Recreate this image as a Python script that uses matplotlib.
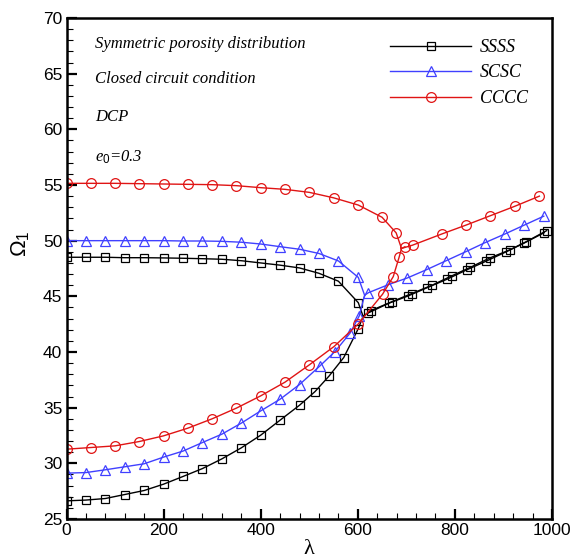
import matplotlib
matplotlib.use("Agg")
import matplotlib.pyplot as plt
from matplotlib.ticker import MultipleLocator

plt.rcParams['mathtext.fontset'] = 'custom'
plt.rcParams['mathtext.rm'] = 'Liberation Sans'
plt.rcParams['mathtext.it'] = 'Liberation Serif:italic'
plt.rcParams['mathtext.bf'] = 'Liberation Sans:bold'

# ---------------- data ----------------
# SSSS: branch A = lower branch + coalesced part, branch B = upper branch + coalesced part
lam_ssss_a = [0, 40, 80, 120, 160, 200, 240, 280, 320, 360, 400, 440, 480, 512, 541, 571, 601,
              611, 620, 664, 704, 743, 784, 824, 864, 905, 942, 984]
om_ssss_a = [26.63, 26.70, 26.84, 27.2, 27.56, 28.13, 28.82, 29.53, 30.40, 31.39, 32.53, 33.88,
             35.22, 36.45, 37.85, 39.5, 42.1, 43.2, 43.48, 44.38, 45.04, 45.78, 46.54, 47.37,
             48.15, 48.99, 49.77, 50.72]
lam_ssss_b = [0, 40, 80, 120, 160, 200, 240, 280, 320, 360, 400, 440, 480, 520, 560, 601,
              611, 627, 671, 711, 753, 793, 832, 872, 913, 947, 989]
om_ssss_b = [48.51, 48.51, 48.51, 48.47, 48.47, 48.45, 48.42, 48.38, 48.33, 48.2, 48.0, 47.8,
             47.55, 47.07, 46.36, 44.43, 43.2, 43.72, 44.53, 45.25, 46.0, 46.83, 47.61, 48.45,
             49.17, 49.91, 50.9]

# SCSC
lam_scsc_a = [0, 40, 80, 120, 160, 200, 240, 280, 320, 360, 400, 440, 480, 522, 553, 584, 603,
              614, 622, 663, 702, 742, 782, 822, 862, 903, 943, 983]
om_scsc_a = [29.12, 29.17, 29.42, 29.69, 29.96, 30.56, 31.1, 31.87, 32.62, 33.61, 34.71, 35.76,
             37.08, 38.75, 40.04, 41.69, 43.24, 45.1, 45.33, 46.05, 46.65, 47.4, 48.2, 49.0,
             49.82, 50.6, 51.4, 52.2]
lam_scsc_b = [0, 40, 80, 120, 160, 200, 240, 280, 320, 360, 400, 440, 480, 520, 560, 601, 614]
om_scsc_b = [50.0, 50.0, 50.0, 50.0, 50.0, 50.0, 49.97, 49.97, 49.94, 49.86, 49.7, 49.46,
             49.23, 48.85, 48.18, 46.7, 45.1]

# CCCC
lam_cccc_a = [0, 50, 100, 150, 200, 250, 300, 350, 400, 450, 500, 551, 601, 651, 673, 685,
              690, 713, 773, 823, 873, 924, 974]
om_cccc_a = [31.27, 31.42, 31.57, 31.96, 32.47, 33.16, 34.0, 34.96, 36.06, 37.29, 38.84, 40.49,
             42.52, 45.19, 46.77, 48.5, 49.3, 49.6, 50.6, 51.4, 52.24, 53.1, 54.0]
lam_cccc_b = [0, 50, 100, 150, 200, 250, 300, 350, 400, 450, 500, 550, 601, 650, 679, 690, 697]
om_cccc_b = [55.15, 55.15, 55.15, 55.12, 55.09, 55.06, 55.03, 54.94, 54.76, 54.61, 54.34,
             53.85, 53.2, 52.1, 50.7, 49.3, 49.45]

# index of the junction point (no symbol drawn there)
junction_ssss_a, junction_ssss_b = 17, 16
junction_scsc_a, junction_scsc_b = 17, 16
junction_cccc_a, junction_cccc_b = 16, 15

labels = ['SSSS', 'SCSC', 'CCCC']
notes = ['Symmetric porosity distribution', 'Closed circuit condition', 'DCP']

# ---------------- figure ----------------
W, H = 572, 560
fig = plt.figure(figsize=(W / 100, H / 100), dpi=100)
ax = fig.add_axes([66.5 / W, 1 - 519 / H, (552 - 66.5) / W, (519 - 18) / H])

black, blue, red = '#000000', '#4040ff', '#e01414'

def branch(x, y, color, marker, ms, skip, label=None):
    idx = [i for i in range(len(x)) if i != skip]
    ax.plot(x, y, color=color, lw=1.0, marker=marker, ms=ms, mfc='none', mec=color,
            mew=0.9, markevery=idx, label=label)

branch(lam_ssss_a, om_ssss_a, black, 's', 6.0, junction_ssss_a, labels[0])
branch(lam_ssss_b, om_ssss_b, black, 's', 6.0, junction_ssss_b)
branch(lam_scsc_a, om_scsc_a, blue, '^', 7.0, junction_scsc_a, labels[1])
branch(lam_scsc_b, om_scsc_b, blue, '^', 7.0, junction_scsc_b)
branch(lam_cccc_a, om_cccc_a, red, 'o', 7.0, junction_cccc_a, labels[2])
branch(lam_cccc_b, om_cccc_b, red, 'o', 7.0, junction_cccc_b)

ax.set_xlim(0, 1000)
ax.set_ylim(25, 70)
ax.xaxis.set_major_locator(MultipleLocator(200))
ax.xaxis.set_minor_locator(MultipleLocator(40))
ax.yaxis.set_major_locator(MultipleLocator(5))
ax.yaxis.set_minor_locator(MultipleLocator(1))
ax.tick_params(which='both', direction='in', top=False, right=False,
               labelsize=12.5, pad=3)
ax.tick_params(which='major', length=7, width=1.6)
ax.tick_params(which='minor', length=4.2, width=0.8)
for lab in ax.get_xticklabels() + ax.get_yticklabels():
    lab.set_fontfamily('Liberation Sans')
for s in ax.spines.values():
    s.set_linewidth(1.8)

ax.set_xlabel('λ', fontfamily='Liberation Serif', fontsize=16, va='bottom')
ax.xaxis.set_label_coords(0.5, -(559 - 519) / (519 - 18))
ax.set_ylabel(r'$\Omega_{\mathit{1}}$', fontsize=16)
ax.yaxis.set_label_coords(-0.074, 0.55)

tx = (95 - 66.5) / (552 - 66.5)
def ypix(p):
    return (519 - p) / (519 - 18)
for t, yp in zip(notes, [44, 79, 117]):
    ax.text(tx, ypix(yp), t, transform=ax.transAxes, fontfamily='Liberation Serif',
            style='italic', fontsize=12, va='center', ha='left')
ax.text(tx, ypix(157), r'$e_{0}$=0.3', transform=ax.transAxes,
        fontfamily='Liberation Serif', style='italic', fontsize=12, va='center', ha='left')

leg = ax.legend(loc='upper left', bbox_to_anchor=((390 - 66.5) / (552 - 66.5), ypix(39)),
                frameon=False, numpoints=1, handlelength=4.5, handletextpad=0.5,
                borderpad=0, borderaxespad=0, labelspacing=0.47,
                prop={'family': 'Liberation Serif', 'style': 'italic', 'size': 13})

fig.savefig('out.png', dpi=100)
